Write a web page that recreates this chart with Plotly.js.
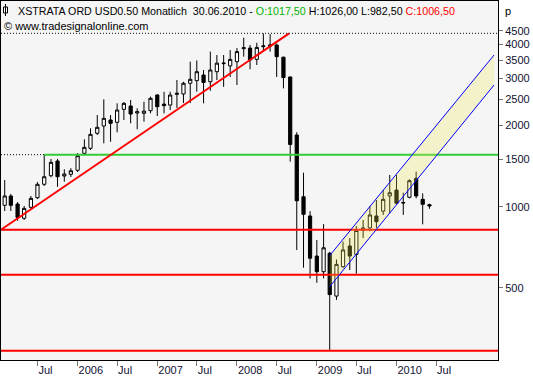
<!DOCTYPE html>
<html><head><meta charset="utf-8">
<script src="https://cdn.plot.ly/plotly-3.0.1.min.js"></script>
<style>html,body{margin:0;padding:0;background:#fff;} #chart{width:533px;height:380px;}</style>
</head><body><div id="chart"></div>
<script>
const months = ["2005-02-01","2005-03-01","2005-04-01","2005-05-01","2005-06-01","2005-07-01","2005-08-01","2005-09-01","2005-10-01","2005-11-01","2005-12-01",
"2006-01-01","2006-02-01","2006-03-01","2006-04-01","2006-05-01","2006-06-01","2006-07-01","2006-08-01","2006-09-01","2006-10-01","2006-11-01","2006-12-01",
"2007-01-01","2007-02-01","2007-03-01","2007-04-01","2007-05-01","2007-06-01","2007-07-01","2007-08-01","2007-09-01","2007-10-01","2007-11-01","2007-12-01",
"2008-01-01","2008-02-01","2008-03-01","2008-04-01","2008-05-01","2008-06-01","2008-07-01","2008-08-01","2008-09-01","2008-10-01","2008-11-01","2008-12-01",
"2009-01-01","2009-02-01","2009-03-01","2009-04-01","2009-05-01","2009-06-01","2009-07-01","2009-08-01","2009-09-01","2009-10-01","2009-11-01","2009-12-01",
"2010-01-01","2010-02-01","2010-03-01","2010-04-01","2010-05-01","2010-06-01"];
const openP  = [1012,1096,1023,906,995,1080,1211,1303,1478,1300,1319,
 1365,1578,1647,1873,1993,2098,2057,2298,2364,2227,2221,2271,
 2597,2403,2384,2612,2619,2871,2935,3081,2908,3170,3395,3330,
 3452,3860,3878,3522,3925,3943,3981,3588,3030,1845,1089,924,
 656,574,672,466,599,715,665,818,834,924,963,1096,
 1153,1032,1084,1274,1065,1017.5];
const highP  = [1256,1115,1041,1006,1096,1234,1560,1503,1503,1377,1390,
 1582,1779,1954,2189,2503,2189,2419,2445,2489,2318,2453,2560,
 2619,2671,2671,2952,2908,3452,3490,3216,3763,3655,3655,3814,
 3878,4236,3981,4057,4394,4370,4031,3604,3040,1889,1337,963,
 752,862,680,637,742,765,847,893,1006,1059,1153,1311,
 1311,1127,1264,1349,1121,1026];
const lowP   = [964,964,887,893,980,1068,1194,1285,1186,1238,1289,
 1345,1555,1623,1845,1719,1742,1888,2098,2039,1938,2069,2221,
 2171,2221,2285,2325,2424,2424,2671,2419,2693,2952,2785,3030,
 2829,3604,3236,3356,3763,3763,3030,2749,1469,691,594,542,
 522,542,294,451,591,582,564,765,811,834,932,945,
 1015,932,1074,1074,860,982.5];
const closeP = [1096,1012,913,986,1074,1211,1292,1461,1292,1322,1360,
 1546,1661,1856,1971,2128,2039,2285,2419,2208,2252,2264,2525,
 2350,2371,2597,2635,2871,2970,3170,2892,3216,3410,3410,3522,
 3763,3890,3502,3901,3950,3981,3604,3015,1702,1052,937,644,
 574,704,472,611,691,656,816,834,932,880,1065,1127,
 1030,1036,1249,1096,1021,1006.5];

const xTickVals = ["2005-07-01","2006-01-01","2006-07-01","2007-01-01","2007-07-01","2008-01-01","2008-07-01","2009-01-01","2009-07-01","2010-01-01","2010-07-01"];
const xTickText = ["Jul","2006","Jul","2007","Jul","2008","Jul","2009","Jul","2010","Jul"];
const yTickVals = [500,1000,1500,2000,2500,3000,3500,4000,4500];
const yTickText = ["500","1000","1500","2000","2500","3000","3500","4000","4500"];

const supportLevels = [822, 559, 292];
const resistanceLevel = 1560;
const resistanceStart = "2005-08-01";
const highLevel = 4400;
const trendX = ["2005-01-18","2008-08-27"];
const trendY = [825, 4400];
const channelX = ["2009-03-01","2011-03-24"];
const channelUpper = [659, 3655];
const channelLower = [505, 2829];
const xRange = ["2005-01-15","2011-04-11"];
const yRangeVals = [269.9, 5799];

const traces = [];
traces.push({type:'candlestick', x:months, open:openP, high:highP, low:lowP, close:closeP,
  increasing:{line:{color:'#000000',width:1}, fillcolor:'#ffffff'},
  decreasing:{line:{color:'#000000',width:1}, fillcolor:'#000000'},
  whiskerwidth:0, hoverinfo:'skip', showlegend:false});

function hline(x0, x1, y, color, width, dash){
  return {type:'scatter', mode:'lines', x:[x0,x1], y:[y,y], line:{color:color,width:width,dash:dash||'solid'}, hoverinfo:'skip', showlegend:false};
}
supportLevels.forEach(v => traces.push(hline(xRange[0], xRange[1], v, '#ff0000', 2)));
traces.push(hline(xRange[0], resistanceStart, resistanceLevel, '#000000', 1, '1px,2px'));
traces.push(hline(resistanceStart, xRange[1], resistanceLevel, '#33cc33', 2));
traces.push(hline(xRange[0], xRange[1], highLevel, '#000000', 1, '1px,2px'));
traces.push({type:'scatter', mode:'lines', x:trendX, y:trendY, line:{color:'#ff0000',width:2}, hoverinfo:'skip', showlegend:false});
// channel fill
traces.push({type:'scatter', mode:'lines', x:[channelX[0],channelX[1],channelX[1],channelX[0],channelX[0]],
  y:[channelUpper[0],channelUpper[1],channelLower[1],channelLower[0],channelUpper[0]],
  fill:'toself', fillcolor:'rgba(245,235,80,0.25)', line:{width:0}, hoverinfo:'skip', showlegend:false});
traces.push({type:'scatter', mode:'lines', x:channelX, y:channelUpper, line:{color:'#0000ff',width:1}, hoverinfo:'skip', showlegend:false});
traces.push({type:'scatter', mode:'lines', x:channelX, y:channelLower, line:{color:'#0000ff',width:1}, hoverinfo:'skip', showlegend:false});

const W = 533, H = 380, ML = 1, MR = 35, MT = 1, MB = 20;
const pw = W - ML - MR, ph = H - MT - MB;
function px(x){ return (x - ML) / pw; }
function py(y){ return (H - MB - y) / ph; }

const header = 'XSTRATA ORD USD0.50 Monatlich\u00a0 30.06.2010 - <span style="color:#00b400">O:1017,50</span> H:1026,00 L:982,50 <span style="color:#ff0000">C:1006,50</span>';

const layout = {
  width:W, height:H,
  margin:{l:ML, r:MR, t:MT, b:MB, pad:0},
  paper_bgcolor:'#ffffff', plot_bgcolor:'#f5f5f5',
  showlegend:false, boxgap:0.25,
  font:{family:'Liberation Sans, Arial, sans-serif', size:11, color:'#111111'},
  xaxis:{type:'date', range:xRange, rangeslider:{visible:false}, tickmode:'array', tickvals:xTickVals, ticktext:xTickText,
    ticks:'outside', ticklen:5, tickcolor:'#777', tickwidth:1, ticklabelposition:'outside right',
    showgrid:false, zeroline:false, showline:true, linecolor:'#000', linewidth:1, mirror:true, fixedrange:true,
    tickfont:{size:11, color:'#111133'}},
  yaxis:{type:'log', side:'right', range:[Math.log10(yRangeVals[0]), Math.log10(yRangeVals[1])], tickmode:'array', tickvals:yTickVals, ticktext:yTickText,
    ticks:'outside', ticklen:4, tickcolor:'#777', tickwidth:1,
    showgrid:false, zeroline:false, showline:true, linecolor:'#000', linewidth:1, mirror:true, fixedrange:true,
    tickfont:{size:11, color:'#111133'}},
  annotations:[
    {xref:'paper', yref:'paper', x:px(16), y:py(10.5), xanchor:'left', yanchor:'middle', showarrow:false, text:header, font:{size:10.7,color:'#000'}},
    {xref:'paper', yref:'paper', x:px(2), y:py(26), xanchor:'left', yanchor:'middle', showarrow:false, text:'© www.tradesignalonline.com', font:{size:11,color:'#000'}},
    {xref:'paper', yref:'paper', x:px(503), y:py(10.5), xanchor:'left', yanchor:'middle', showarrow:false, text:'p', font:{size:11,color:'#000'}}
  ],
  shapes:[
    {type:'rect', xref:'paper', yref:'paper', x0:px(3.5), x1:px(7.5), y0:py(13), y1:py(7), line:{color:'#000',width:1}, fillcolor:'#fff'},
    {type:'line', xref:'paper', yref:'paper', x0:px(5.5), x1:px(5.5), y0:py(16), y1:py(4), line:{color:'#000',width:1}}
  ]
};
Plotly.newPlot('chart', traces, layout, {staticPlot:true, displayModeBar:false});
</script></body></html>
